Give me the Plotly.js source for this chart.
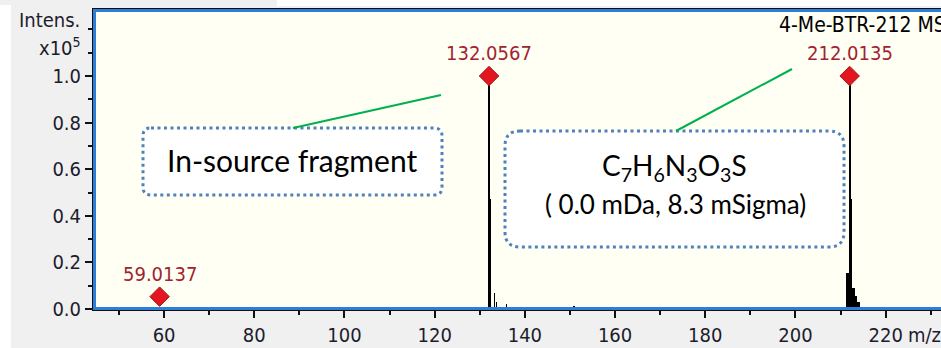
<!DOCTYPE html>
<html>
<head>
<meta charset="utf-8">
<script src="https://cdn.plot.ly/plotly-3.0.1.min.js"></script>
<style>
html,body{margin:0;padding:0;overflow:hidden;background:#ffffff;}
#chart{width:970px;height:348px;}
</style>
</head>
<body>
<div id="chart"></div>
<script>
// ---- data ----
const stickMz  = [132.06, 132.36, 133.32, 133.76, 135.92, 150.91,
                  211.45, 211.75, 212.01, 212.33, 212.65, 212.95, 213.25, 213.55, 213.85, 214.15];
const stickInt = [1.0, 0.47, 0.067, 0.03, 0.02, 0.014,
                  0.155, 0.155, 1.0, 0.47, 0.09, 0.09, 0.055, 0.055, 0.03, 0.03];
const stickW   = [0.42, 0.4, 0.3, 0.3, 0.3, 0.3,
                  0.32, 0.32, 0.42, 0.4, 0.32, 0.32, 0.32, 0.32, 0.32, 0.32];
const labelMz  = [59.0137, 132.0567, 212.0135];
const labelInt = [0.053, 1.0, 1.0];
const labelTxt = ["59.0137", "132.0567", "212.0135"];
const yTickVals = [0, 0.2, 0.4, 0.6, 0.8, 1.0];
const yTickText = ["0.0", "0.2", "0.4", "0.6", "0.8", "1.0"];
const xTickVals = [60, 80, 100, 120, 140, 160, 180, 200, 220];
const xTickText = ["60", "80", "100", "120", "140", "160", "180", "200", "220"];
const spectrumName = "4-Me-BTR-212 MS";
const boxText1 = "In-source fragment";
const boxText2a = "C<sub>7</sub>H<sub>6</sub>N<sub>3</sub>O<sub>3</sub>S";
const boxText2b = "( 0.0 mDa, 8.3 mSigma)";

// ---- layout geometry ----
const W = 970, H = 348;
const ML = 93, MR = 5, MT = 9, MB = 38;
const PW = W - ML - MR, PH = H - MT - MB;
const px = x => (x - ML) / PW;
const py = y => (H - MB - y) / PH;

const tickFont = {family: "DejaVu Sans Condensed, DejaVu Sans, sans-serif", size: 20, color: "#1c1c2c"};
const boxFont = "Lato, 'Open Sans', sans-serif";

function rr(x0, y0, x1, y1, r) {
  const P = (x, y) => px(x).toFixed(5) + "," + py(y).toFixed(5);
  return "M" + P(x0 + r, y0) + " L" + P(x1 - r, y0) + " Q" + P(x1, y0) + " " + P(x1, y0 + r) +
         " L" + P(x1, y1 - r) + " Q" + P(x1, y1) + " " + P(x1 - r, y1) +
         " L" + P(x0 + r, y1) + " Q" + P(x0, y1) + " " + P(x0, y1 - r) +
         " L" + P(x0, y0 + r) + " Q" + P(x0, y0) + " " + P(x0 + r, y0) + " Z";
}

const traces = [
  {
    type: "bar", x: stickMz, y: stickInt, width: stickW,
    marker: {color: "#000000", line: {width: 0}},
    hoverinfo: "skip", showlegend: false
  },
  {
    type: "scatter", mode: "markers", x: labelMz, y: labelInt,
    marker: {symbol: "diamond", size: 15, color: "#e3161f", line: {color: "#9e1a1a", width: 1}},
    cliponaxis: false, hoverinfo: "skip", showlegend: false
  }
];

const annotations = labelMz.map((m, i) => ({
  x: m, y: labelInt[i], xref: "x", yref: "y", text: labelTxt[i], showarrow: false,
  yshift: 23, xanchor: "center", yanchor: "middle",
  font: {family: tickFont.family, size: 20, color: "#a1232f"}
}));

annotations.push(
  {xref: "paper", yref: "paper", x: px(82), y: py(20), text: "Intens.", showarrow: false,
   xanchor: "right", yanchor: "middle", font: tickFont},
  {xref: "paper", yref: "paper", x: px(83), y: py(47), text: "x10<sup>5</sup>", showarrow: false,
   xanchor: "right", yanchor: "middle", font: tickFont},
  {xref: "paper", yref: "paper", x: px(777), y: py(25), text: spectrumName, showarrow: false,
   xanchor: "left", yanchor: "middle", font: {family: tickFont.family, size: 21, color: "#000"}},
  {xref: "paper", yref: "paper", x: px(906), y: py(335), text: "m/z", showarrow: false,
   xanchor: "left", yanchor: "middle", font: tickFont},
  {xref: "paper", yref: "paper", x: px(292), y: py(160), text: boxText1, showarrow: false,
   xanchor: "center", yanchor: "middle", font: {family: boxFont, size: 30, color: "#000"}},
  {xref: "paper", yref: "paper", x: px(674), y: py(167), text: boxText2a, showarrow: false,
   xanchor: "center", yanchor: "middle", font: {family: boxFont, size: 28, color: "#000"}},
  {xref: "paper", yref: "paper", x: px(675), y: py(204), text: boxText2b, showarrow: false,
   xanchor: "center", yanchor: "middle", font: {family: boxFont, size: 26, color: "#000"}}
);

const shapes = [
  // white margins of the screenshot
  {type: "rect", xref: "paper", yref: "paper", x0: px(0), x1: px(11), y0: py(348), y1: py(5),
   fillcolor: "#ffffff", line: {width: 0}, layer: "below"},
  {type: "rect", xref: "paper", yref: "paper", x0: px(277), x1: px(970), y0: py(6), y1: py(0),
   fillcolor: "#ffffff", line: {width: 0}, layer: "below"},
  // blue frame
  {type: "rect", xref: "paper", yref: "paper", x0: 1.5 / PW, x1: 1 + 5 / PW, y0: 1.5 / PH, y1: 1 - 1.5 / PH,
   line: {color: "#2b7fd8", width: 3}, fillcolor: "rgba(0,0,0,0)", layer: "above"},
  // callout boxes
  {type: "path", xref: "paper", yref: "paper", path: rr(143, 128, 442, 195, 8),
   fillcolor: "#ffffff", line: {color: "#4f81bd", width: 3, dash: "3px,3.5px"}, layer: "above"},
  {type: "path", xref: "paper", yref: "paper", path: rr(505, 131, 844, 247, 15),
   fillcolor: "#ffffff", line: {color: "#4f81bd", width: 3, dash: "3px,3.5px"}, layer: "above"},
  // green connectors
  {type: "line", xref: "paper", yref: "paper", x0: px(293), y0: py(128), x1: px(441), y1: py(95),
   line: {color: "#00b050", width: 2}, layer: "above"},
  {type: "line", xref: "paper", yref: "paper", x0: px(676), y0: py(131), x1: px(792), y1: py(69),
   line: {color: "#00b050", width: 2}, layer: "above"}
];

const xShift = 0.2;
const layout = {
  width: W, height: H,
  margin: {l: ML, r: MR, t: MT, b: MB, pad: 0},
  paper_bgcolor: "#f0f0f0",
  plot_bgcolor: "#fffff4",
  showlegend: false,
  xaxis: {
    range: [44.04 + xShift, 44.04 + PW / 4.51 + xShift],
    tickmode: "array", tickvals: xTickVals, ticktext: xTickText,
    ticks: "outside", ticklen: 7, tickwidth: 2, tickcolor: "#111",
    minor: {dtick: 10, tick0: 0, ticks: "outside", ticklen: 4, tickwidth: 2, tickcolor: "#111", showgrid: false},
    showgrid: false, zeroline: false,
    showline: true, linecolor: "#111", linewidth: 1, mirror: true,
    tickfont: tickFont, fixedrange: true
  },
  yaxis: {
    range: [-1 / 233 * 1.0, (309 - 9) / 233],
    tickmode: "array", tickvals: yTickVals, ticktext: yTickText,
    ticks: "outside", ticklen: 7, tickwidth: 2, tickcolor: "#111",
    minor: {dtick: 0.1, tick0: 0, ticks: "outside", ticklen: 4, tickwidth: 2, tickcolor: "#111", showgrid: false},
    showgrid: false, zeroline: false,
    showline: true, linecolor: "#111", linewidth: 1, mirror: true,
    tickfont: tickFont, fixedrange: true
  },
  annotations: annotations,
  shapes: shapes,
  bargap: 0
};

Plotly.newPlot("chart", traces, layout, {displayModeBar: false, staticPlot: true});
</script>
</body>
</html>
